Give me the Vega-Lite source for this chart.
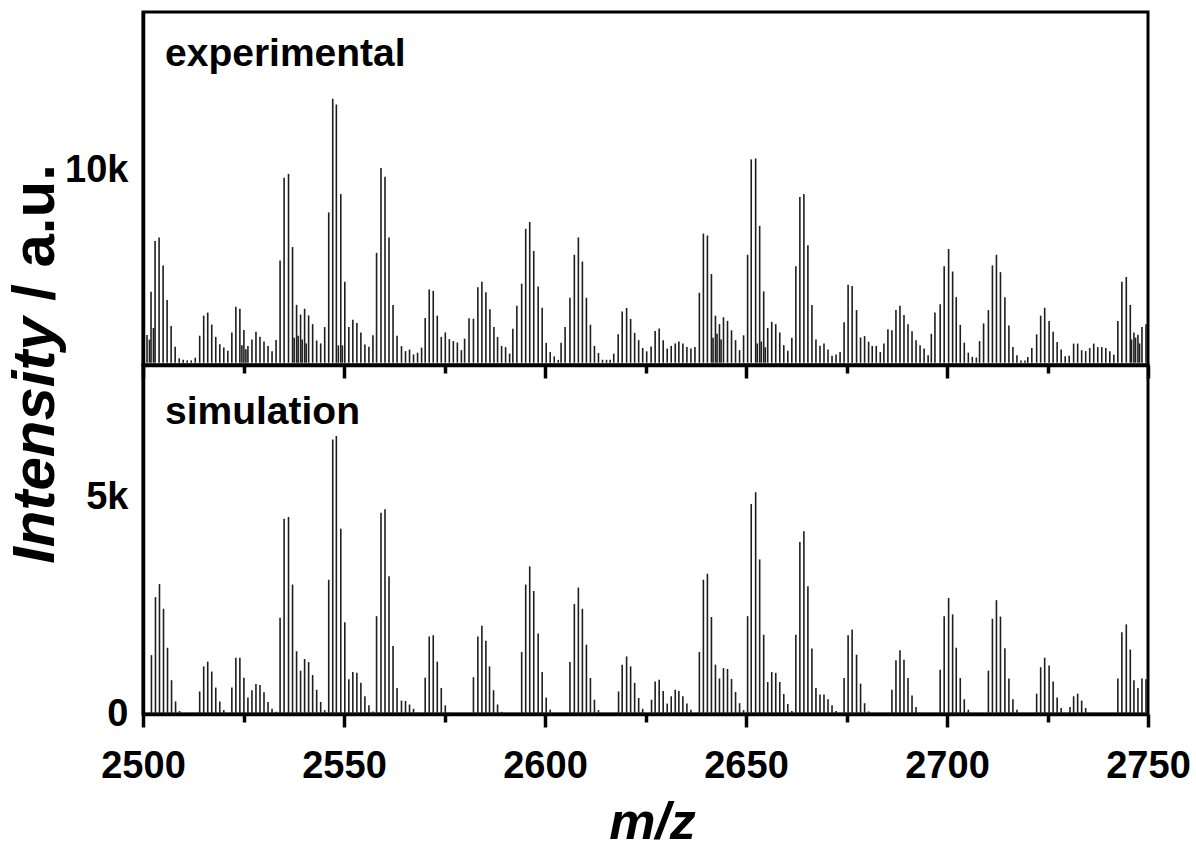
{
  "$schema": "https://vega.github.io/schema/vega-lite/v6.json",
  "background": "white",
  "padding": {"left": 3, "top": 10, "right": 20, "bottom": 0},
  "bounds": "flush",
  "spacing": 0,
  "config": {
    "font": "Liberation Sans",
    "view": {"stroke": "black", "strokeWidth": 3},
    "axis": {
      "grid": false,
      "labelFlush": false,
      "labelOverlap": false,
      "domainColor": "black",
      "domainWidth": 3.5,
      "tickColor": "black",
      "tickWidth": 3.5,
      "labelFont": "Liberation Sans",
      "labelFontWeight": "bold",
      "labelFontSize": 38,
      "labelColor": "black",
      "titleFont": "Liberation Sans",
      "titleFontWeight": "bold",
      "titleColor": "black"
    }
  },
  "datasets": {
    "exp": [
      {"mz": 2501.0, "i": 1440}, {"mz": 2502.0, "i": 3680}, {"mz": 2503.0, "i": 6320}, {"mz": 2504.0, "i": 6500},
      {"mz": 2505.0, "i": 5050}, {"mz": 2506.0, "i": 3250}, {"mz": 2507.0, "i": 1900}, {"mz": 2508.0, "i": 830},
      {"mz": 2509.0, "i": 230}, {"mz": 2510.0, "i": 150}, {"mz": 2511.0, "i": 120}, {"mz": 2512.0, "i": 120},
      {"mz": 2513.0, "i": 260}, {"mz": 2514.1, "i": 1400}, {"mz": 2515.1, "i": 2440}, {"mz": 2516.1, "i": 2600},
      {"mz": 2517.1, "i": 1980}, {"mz": 2518.1, "i": 1340}, {"mz": 2519.1, "i": 960}, {"mz": 2520.1, "i": 790},
      {"mz": 2521.1, "i": 620}, {"mz": 2522.1, "i": 1570}, {"mz": 2523.1, "i": 2900}, {"mz": 2524.1, "i": 2800},
      {"mz": 2525.1, "i": 1700}, {"mz": 2526.1, "i": 860}, {"mz": 2527.1, "i": 1200}, {"mz": 2528.1, "i": 1600},
      {"mz": 2529.1, "i": 1340}, {"mz": 2530.1, "i": 1100}, {"mz": 2531.1, "i": 860}, {"mz": 2532.1, "i": 600},
      {"mz": 2533.1, "i": 1180}, {"mz": 2534.1, "i": 5300}, {"mz": 2535.1, "i": 9600}, {"mz": 2536.2, "i": 9800},
      {"mz": 2537.2, "i": 6000}, {"mz": 2538.2, "i": 3000}, {"mz": 2539.2, "i": 2500}, {"mz": 2540.2, "i": 2800},
      {"mz": 2541.2, "i": 2450}, {"mz": 2542.2, "i": 2000}, {"mz": 2543.2, "i": 1150}, {"mz": 2544.2, "i": 1000},
      {"mz": 2545.2, "i": 1850}, {"mz": 2546.2, "i": 7800}, {"mz": 2547.2, "i": 13700}, {"mz": 2548.1, "i": 13400},
      {"mz": 2549.2, "i": 8750}, {"mz": 2550.2, "i": 4200}, {"mz": 2551.2, "i": 1850}, {"mz": 2552.2, "i": 2230},
      {"mz": 2553.2, "i": 2060}, {"mz": 2554.2, "i": 1570}, {"mz": 2555.2, "i": 950}, {"mz": 2556.2, "i": 830},
      {"mz": 2557.2, "i": 1420}, {"mz": 2558.1, "i": 5700}, {"mz": 2559.2, "i": 10100}, {"mz": 2560.2, "i": 9650},
      {"mz": 2561.2, "i": 6500}, {"mz": 2562.2, "i": 3000}, {"mz": 2563.2, "i": 1400}, {"mz": 2564.3, "i": 860},
      {"mz": 2565.3, "i": 600}, {"mz": 2566.3, "i": 680}, {"mz": 2567.3, "i": 430}, {"mz": 2568.3, "i": 520},
      {"mz": 2569.3, "i": 780}, {"mz": 2570.2, "i": 2320}, {"mz": 2571.2, "i": 3800}, {"mz": 2572.2, "i": 3730},
      {"mz": 2573.2, "i": 2440}, {"mz": 2574.2, "i": 1340}, {"mz": 2575.2, "i": 1570}, {"mz": 2576.2, "i": 1220},
      {"mz": 2577.2, "i": 1120}, {"mz": 2578.2, "i": 1050}, {"mz": 2579.2, "i": 650}, {"mz": 2580.0, "i": 1250},
      {"mz": 2581.1, "i": 2300}, {"mz": 2582.2, "i": 2280}, {"mz": 2583.3, "i": 3920}, {"mz": 2584.3, "i": 4200},
      {"mz": 2585.3, "i": 3650}, {"mz": 2586.3, "i": 2770}, {"mz": 2587.3, "i": 1850}, {"mz": 2588.2, "i": 1340},
      {"mz": 2589.2, "i": 870}, {"mz": 2590.2, "i": 810}, {"mz": 2591.2, "i": 470}, {"mz": 2592.0, "i": 1760},
      {"mz": 2593.0, "i": 2950}, {"mz": 2594.2, "i": 4100}, {"mz": 2595.2, "i": 6950}, {"mz": 2596.2, "i": 7300},
      {"mz": 2597.2, "i": 5800}, {"mz": 2598.3, "i": 3950}, {"mz": 2599.3, "i": 2850}, {"mz": 2600.3, "i": 1030},
      {"mz": 2601.3, "i": 550}, {"mz": 2602.3, "i": 330}, {"mz": 2603.3, "i": 150}, {"mz": 2604.0, "i": 1030},
      {"mz": 2605.0, "i": 1850}, {"mz": 2606.2, "i": 3370}, {"mz": 2607.3, "i": 5600}, {"mz": 2608.3, "i": 6500},
      {"mz": 2609.3, "i": 5250}, {"mz": 2610.3, "i": 3370}, {"mz": 2611.3, "i": 1970}, {"mz": 2612.3, "i": 870},
      {"mz": 2613.3, "i": 500}, {"mz": 2614.3, "i": 150}, {"mz": 2615.3, "i": 150}, {"mz": 2616.2, "i": 150},
      {"mz": 2617.1, "i": 470}, {"mz": 2618.2, "i": 1480}, {"mz": 2619.2, "i": 2660}, {"mz": 2620.3, "i": 2840},
      {"mz": 2621.3, "i": 2270}, {"mz": 2622.3, "i": 1550}, {"mz": 2623.3, "i": 1170}, {"mz": 2624.3, "i": 760},
      {"mz": 2625.3, "i": 590}, {"mz": 2626.4, "i": 840}, {"mz": 2627.4, "i": 1650}, {"mz": 2628.4, "i": 1780},
      {"mz": 2629.4, "i": 1170}, {"mz": 2630.4, "i": 730}, {"mz": 2631.4, "i": 870}, {"mz": 2632.4, "i": 1000},
      {"mz": 2633.3, "i": 1100}, {"mz": 2634.3, "i": 1000}, {"mz": 2635.3, "i": 810}, {"mz": 2636.3, "i": 730},
      {"mz": 2637.3, "i": 810}, {"mz": 2638.4, "i": 3630}, {"mz": 2639.4, "i": 6700}, {"mz": 2640.4, "i": 6600},
      {"mz": 2641.4, "i": 4600}, {"mz": 2642.4, "i": 2440}, {"mz": 2643.4, "i": 2000}, {"mz": 2644.4, "i": 2360},
      {"mz": 2645.4, "i": 2170}, {"mz": 2646.4, "i": 1680}, {"mz": 2647.4, "i": 1170}, {"mz": 2648.4, "i": 650},
      {"mz": 2649.4, "i": 1420}, {"mz": 2650.4, "i": 5600}, {"mz": 2651.3, "i": 10550}, {"mz": 2652.4, "i": 10600},
      {"mz": 2653.4, "i": 7100}, {"mz": 2654.4, "i": 3700}, {"mz": 2655.4, "i": 1800}, {"mz": 2656.4, "i": 2120},
      {"mz": 2657.4, "i": 2000}, {"mz": 2658.4, "i": 1570}, {"mz": 2659.4, "i": 910}, {"mz": 2660.4, "i": 620},
      {"mz": 2661.4, "i": 1290}, {"mz": 2662.4, "i": 5000}, {"mz": 2663.4, "i": 8600}, {"mz": 2664.4, "i": 8750},
      {"mz": 2665.4, "i": 6100}, {"mz": 2666.4, "i": 3000}, {"mz": 2667.4, "i": 1200}, {"mz": 2668.4, "i": 880},
      {"mz": 2669.4, "i": 990}, {"mz": 2670.4, "i": 680}, {"mz": 2671.4, "i": 360}, {"mz": 2672.4, "i": 430},
      {"mz": 2673.4, "i": 550}, {"mz": 2674.4, "i": 2100}, {"mz": 2675.4, "i": 4050}, {"mz": 2676.4, "i": 3980},
      {"mz": 2677.5, "i": 2730}, {"mz": 2678.5, "i": 1310}, {"mz": 2679.5, "i": 1380}, {"mz": 2680.5, "i": 1090},
      {"mz": 2681.4, "i": 870}, {"mz": 2682.4, "i": 870}, {"mz": 2683.4, "i": 550}, {"mz": 2684.3, "i": 990},
      {"mz": 2685.3, "i": 1730}, {"mz": 2686.3, "i": 1680}, {"mz": 2687.3, "i": 2730}, {"mz": 2688.3, "i": 2950},
      {"mz": 2689.3, "i": 2470}, {"mz": 2690.3, "i": 1990}, {"mz": 2691.3, "i": 1630}, {"mz": 2692.3, "i": 1170},
      {"mz": 2693.3, "i": 910}, {"mz": 2694.3, "i": 730}, {"mz": 2695.3, "i": 380}, {"mz": 2696.1, "i": 1500},
      {"mz": 2697.0, "i": 2600}, {"mz": 2698.3, "i": 3030}, {"mz": 2699.3, "i": 5000}, {"mz": 2700.4, "i": 5900},
      {"mz": 2701.4, "i": 4730}, {"mz": 2702.3, "i": 3400}, {"mz": 2703.3, "i": 1960}, {"mz": 2704.3, "i": 1040},
      {"mz": 2705.3, "i": 520}, {"mz": 2706.3, "i": 300}, {"mz": 2707.3, "i": 270}, {"mz": 2708.1, "i": 1120},
      {"mz": 2709.1, "i": 2040}, {"mz": 2710.3, "i": 2730}, {"mz": 2711.3, "i": 5050}, {"mz": 2712.3, "i": 5600},
      {"mz": 2713.3, "i": 4700}, {"mz": 2714.4, "i": 3400}, {"mz": 2715.4, "i": 1930}, {"mz": 2716.4, "i": 810},
      {"mz": 2717.4, "i": 380}, {"mz": 2718.4, "i": 120}, {"mz": 2719.4, "i": 120}, {"mz": 2720.1, "i": 300},
      {"mz": 2721.1, "i": 760}, {"mz": 2722.3, "i": 1470}, {"mz": 2723.3, "i": 2440}, {"mz": 2724.3, "i": 2850},
      {"mz": 2725.4, "i": 2170}, {"mz": 2726.4, "i": 1600}, {"mz": 2727.4, "i": 1080}, {"mz": 2728.4, "i": 680},
      {"mz": 2729.4, "i": 330}, {"mz": 2730.4, "i": 360}, {"mz": 2731.5, "i": 990}, {"mz": 2732.5, "i": 990},
      {"mz": 2733.5, "i": 650}, {"mz": 2734.5, "i": 600}, {"mz": 2735.5, "i": 760}, {"mz": 2736.5, "i": 990},
      {"mz": 2737.5, "i": 810}, {"mz": 2738.5, "i": 810}, {"mz": 2739.5, "i": 760}, {"mz": 2740.5, "i": 600},
      {"mz": 2741.5, "i": 410}, {"mz": 2742.5, "i": 2170}, {"mz": 2743.5, "i": 4200}, {"mz": 2744.6, "i": 4450},
      {"mz": 2745.6, "i": 3000}, {"mz": 2746.5, "i": 1570}, {"mz": 2747.5, "i": 1450}, {"mz": 2748.5, "i": 1850},
      {"mz": 2749.5, "i": 2000},
      {"mz": 2501.6, "i": 1200}, {"mz": 2502.6, "i": 1800}, {"mz": 2524.6, "i": 900}, {"mz": 2525.6, "i": 700},
      {"mz": 2537.6, "i": 1300}, {"mz": 2538.6, "i": 1400}, {"mz": 2539.6, "i": 1200}, {"mz": 2540.6, "i": 1000},
      {"mz": 2548.6, "i": 900}, {"mz": 2549.6, "i": 900}, {"mz": 2641.8, "i": 1300}, {"mz": 2642.8, "i": 1500},
      {"mz": 2643.8, "i": 1200}, {"mz": 2652.8, "i": 1000}, {"mz": 2653.8, "i": 1100}, {"mz": 2654.8, "i": 800},
      {"mz": 2745.9, "i": 1200}, {"mz": 2746.9, "i": 1300}, {"mz": 2747.9, "i": 1000}
    ],
    "sim": [
      {"mz": 2502.1, "i": 1360}, {"mz": 2503.1, "i": 2700}, {"mz": 2504.1, "i": 3000}, {"mz": 2505.1, "i": 2430},
      {"mz": 2506.1, "i": 1530}, {"mz": 2507.1, "i": 780}, {"mz": 2508.1, "i": 290}, {"mz": 2509.1, "i": 70},
      {"mz": 2514.1, "i": 520}, {"mz": 2515.1, "i": 1100}, {"mz": 2516.1, "i": 1210}, {"mz": 2517.1, "i": 980},
      {"mz": 2518.1, "i": 610}, {"mz": 2519.1, "i": 290}, {"mz": 2520.1, "i": 90}, {"mz": 2522.1, "i": 610},
      {"mz": 2523.1, "i": 1300}, {"mz": 2524.1, "i": 1300}, {"mz": 2525.1, "i": 840}, {"mz": 2526.1, "i": 380},
      {"mz": 2527.1, "i": 550}, {"mz": 2528.1, "i": 690}, {"mz": 2529.1, "i": 670}, {"mz": 2530.1, "i": 500},
      {"mz": 2531.1, "i": 280}, {"mz": 2532.1, "i": 120}, {"mz": 2533.1, "i": 50}, {"mz": 2534.1, "i": 2220},
      {"mz": 2535.1, "i": 4510}, {"mz": 2536.2, "i": 4550}, {"mz": 2537.2, "i": 2990}, {"mz": 2538.2, "i": 1450},
      {"mz": 2539.2, "i": 1000}, {"mz": 2540.2, "i": 1270}, {"mz": 2541.2, "i": 1200}, {"mz": 2542.2, "i": 900},
      {"mz": 2543.2, "i": 560}, {"mz": 2544.2, "i": 280}, {"mz": 2545.2, "i": 90}, {"mz": 2546.2, "i": 3100},
      {"mz": 2547.2, "i": 6340}, {"mz": 2548.1, "i": 6420}, {"mz": 2549.2, "i": 4280}, {"mz": 2550.2, "i": 2120},
      {"mz": 2551.2, "i": 800}, {"mz": 2552.2, "i": 970}, {"mz": 2553.2, "i": 950}, {"mz": 2554.2, "i": 720},
      {"mz": 2555.2, "i": 410}, {"mz": 2556.2, "i": 200}, {"mz": 2557.2, "i": 60}, {"mz": 2558.1, "i": 2260},
      {"mz": 2559.2, "i": 4650}, {"mz": 2560.2, "i": 4730}, {"mz": 2561.2, "i": 3180}, {"mz": 2562.2, "i": 1570},
      {"mz": 2563.2, "i": 600}, {"mz": 2564.3, "i": 310}, {"mz": 2565.3, "i": 300}, {"mz": 2566.3, "i": 220},
      {"mz": 2567.3, "i": 120}, {"mz": 2568.3, "i": 30}, {"mz": 2570.2, "i": 840}, {"mz": 2571.2, "i": 1790},
      {"mz": 2572.2, "i": 1820}, {"mz": 2573.2, "i": 1210}, {"mz": 2574.2, "i": 600}, {"mz": 2575.2, "i": 200},
      {"mz": 2576.2, "i": 30}, {"mz": 2582.2, "i": 850}, {"mz": 2583.3, "i": 1790}, {"mz": 2584.3, "i": 2040},
      {"mz": 2585.3, "i": 1690}, {"mz": 2586.2, "i": 1100}, {"mz": 2587.2, "i": 550}, {"mz": 2588.2, "i": 220},
      {"mz": 2589.2, "i": 50}, {"mz": 2594.2, "i": 1430}, {"mz": 2595.2, "i": 2990}, {"mz": 2596.2, "i": 3410},
      {"mz": 2597.2, "i": 2840}, {"mz": 2598.3, "i": 1860}, {"mz": 2599.3, "i": 970}, {"mz": 2600.3, "i": 380},
      {"mz": 2601.3, "i": 100}, {"mz": 2606.2, "i": 1200}, {"mz": 2607.3, "i": 2540}, {"mz": 2608.3, "i": 2920},
      {"mz": 2609.3, "i": 2430}, {"mz": 2610.3, "i": 1600}, {"mz": 2611.3, "i": 830}, {"mz": 2612.3, "i": 330},
      {"mz": 2613.3, "i": 90}, {"mz": 2618.3, "i": 520}, {"mz": 2619.2, "i": 1140}, {"mz": 2620.3, "i": 1330},
      {"mz": 2621.3, "i": 1100}, {"mz": 2622.3, "i": 720}, {"mz": 2623.3, "i": 370}, {"mz": 2624.3, "i": 120},
      {"mz": 2626.5, "i": 330}, {"mz": 2627.4, "i": 750}, {"mz": 2628.4, "i": 790}, {"mz": 2629.4, "i": 530},
      {"mz": 2630.4, "i": 240}, {"mz": 2631.4, "i": 410}, {"mz": 2632.4, "i": 560}, {"mz": 2633.3, "i": 530},
      {"mz": 2634.3, "i": 410}, {"mz": 2635.3, "i": 240}, {"mz": 2636.3, "i": 100}, {"mz": 2638.4, "i": 1430},
      {"mz": 2639.4, "i": 3100}, {"mz": 2640.4, "i": 3240}, {"mz": 2641.4, "i": 2240}, {"mz": 2642.4, "i": 1140},
      {"mz": 2643.4, "i": 820}, {"mz": 2644.4, "i": 1060}, {"mz": 2645.4, "i": 1040}, {"mz": 2646.4, "i": 810},
      {"mz": 2647.4, "i": 510}, {"mz": 2648.4, "i": 250}, {"mz": 2649.4, "i": 90}, {"mz": 2650.4, "i": 2260},
      {"mz": 2651.3, "i": 4850}, {"mz": 2652.4, "i": 5120}, {"mz": 2653.4, "i": 3570}, {"mz": 2654.4, "i": 1830},
      {"mz": 2655.4, "i": 740}, {"mz": 2656.4, "i": 970}, {"mz": 2657.4, "i": 950}, {"mz": 2658.4, "i": 740},
      {"mz": 2659.4, "i": 460}, {"mz": 2660.4, "i": 230}, {"mz": 2661.4, "i": 70}, {"mz": 2662.4, "i": 1830},
      {"mz": 2663.4, "i": 3970}, {"mz": 2664.4, "i": 4220}, {"mz": 2665.4, "i": 2950}, {"mz": 2666.4, "i": 1510},
      {"mz": 2667.4, "i": 600}, {"mz": 2668.4, "i": 450}, {"mz": 2669.4, "i": 450}, {"mz": 2670.4, "i": 340},
      {"mz": 2671.4, "i": 200}, {"mz": 2672.4, "i": 70}, {"mz": 2674.4, "i": 830}, {"mz": 2675.4, "i": 1820},
      {"mz": 2676.4, "i": 1950}, {"mz": 2677.5, "i": 1370}, {"mz": 2678.5, "i": 700}, {"mz": 2679.5, "i": 250},
      {"mz": 2680.5, "i": 60}, {"mz": 2686.3, "i": 560}, {"mz": 2687.3, "i": 1240}, {"mz": 2688.3, "i": 1470},
      {"mz": 2689.3, "i": 1250}, {"mz": 2690.3, "i": 830}, {"mz": 2691.3, "i": 430}, {"mz": 2692.3, "i": 160},
      {"mz": 2693.3, "i": 30}, {"mz": 2698.3, "i": 1020}, {"mz": 2699.3, "i": 2260}, {"mz": 2700.4, "i": 2680},
      {"mz": 2701.4, "i": 2300}, {"mz": 2702.3, "i": 1530}, {"mz": 2703.3, "i": 830}, {"mz": 2704.3, "i": 340},
      {"mz": 2705.3, "i": 100}, {"mz": 2710.3, "i": 1000}, {"mz": 2711.3, "i": 2200}, {"mz": 2712.3, "i": 2630},
      {"mz": 2713.3, "i": 2250}, {"mz": 2714.4, "i": 1520}, {"mz": 2715.4, "i": 820}, {"mz": 2716.4, "i": 340},
      {"mz": 2717.4, "i": 100}, {"mz": 2722.3, "i": 470}, {"mz": 2723.3, "i": 1080}, {"mz": 2724.3, "i": 1300},
      {"mz": 2725.4, "i": 1120}, {"mz": 2726.4, "i": 750}, {"mz": 2727.4, "i": 380}, {"mz": 2728.4, "i": 140},
      {"mz": 2729.4, "i": 30}, {"mz": 2730.6, "i": 160}, {"mz": 2731.5, "i": 410}, {"mz": 2732.5, "i": 470},
      {"mz": 2733.5, "i": 310}, {"mz": 2734.5, "i": 140}, {"mz": 2735.5, "i": 30}, {"mz": 2742.5, "i": 820},
      {"mz": 2743.5, "i": 1890}, {"mz": 2744.6, "i": 2070}, {"mz": 2745.6, "i": 1490}, {"mz": 2746.5, "i": 780},
      {"mz": 2747.5, "i": 600}, {"mz": 2748.5, "i": 820}, {"mz": 2749.5, "i": 800}
    ]
  },
  "vconcat": [
    {
      "width": 1005,
      "height": 353,
      "data": {"name": "exp"},
      "title": {
        "text": "experimental",
        "anchor": "start",
        "frame": "group",
        "font": "Liberation Sans",
        "fontSize": 39,
        "fontWeight": "bold",
        "color": "black",
        "baseline": "alphabetic",
        "offset": 0,
        "dx": 22,
        "dy": 93
      },
      "mark": {"type": "rule", "strokeWidth": 1.6, "color": "#1e1e1e"},
      "encoding": {
        "x": {
          "field": "mz",
          "type": "quantitative",
          "scale": {"domain": [2500, 2750], "nice": false, "zero": false},
          "axis": {
            "values": [2500, 2525, 2550, 2575, 2600, 2625, 2650, 2675, 2700, 2725, 2750],
            "labels": false,
            "title": null,
            "tickSize": {"condition": {"test": "datum.value % 50 === 0", "value": 13}, "value": 8}
          }
        },
        "y": {
          "field": "i",
          "type": "quantitative",
          "scale": {"domain": [-120, 18200], "nice": false, "zero": false},
          "axis": {
            "values": [10000],
            "format": "~s",
            "ticks": false,
            "labelPadding": 15,
            "title": "/ a.u.",
            "titleFontSize": 60,
            "titleFontStyle": "normal",
            "titleAngle": 270,
            "titleAlign": "center",
            "titleBaseline": "middle",
            "titleX": -108,
            "titleY": 220
          }
        },
        "y2": {"datum": 0}
      }
    },
    {
      "width": 1005,
      "height": 349,
      "data": {"name": "sim"},
      "title": {
        "text": "simulation",
        "anchor": "start",
        "frame": "group",
        "font": "Liberation Sans",
        "fontSize": 39,
        "fontWeight": "bold",
        "color": "black",
        "baseline": "alphabetic",
        "offset": 0,
        "dx": 22,
        "dy": 146
      },
      "mark": {"type": "rule", "strokeWidth": 1.6, "color": "#1e1e1e"},
      "encoding": {
        "x": {
          "field": "mz",
          "type": "quantitative",
          "scale": {"domain": [2500, 2750], "nice": false, "zero": false},
          "axis": {
            "values": [2500, 2525, 2550, 2575, 2600, 2625, 2650, 2675, 2700, 2725, 2750],
            "format": "d",
            "labelExpr": "datum.value % 50 === 0 ? datum.label : ''",
            "labelPadding": 20,
            "tickSize": {"condition": {"test": "datum.value % 50 === 0", "value": 13}, "value": 8},
            "title": "m/z",
            "titleFontSize": 52,
            "titleFontStyle": "italic",
            "titleAlign": "center",
            "titleBaseline": "alphabetic",
            "titleX": 509,
            "titleY": 124
          }
        },
        "y": {
          "field": "i",
          "type": "quantitative",
          "scale": {"domain": [0, 8060], "nice": false, "zero": false},
          "axis": {
            "values": [0, 5000],
            "format": "~s",
            "labelExpr": "datum.value === 0 ? '0' : datum.label",
            "ticks": false,
            "labelPadding": 15,
            "title": "Intensity",
            "titleFontSize": 60,
            "titleFontStyle": "italic",
            "titleAngle": 270,
            "titleAlign": "center",
            "titleBaseline": "middle",
            "titleX": -108,
            "titleY": 75
          }
        },
        "y2": {"datum": 0}
      }
    }
  ]
}
